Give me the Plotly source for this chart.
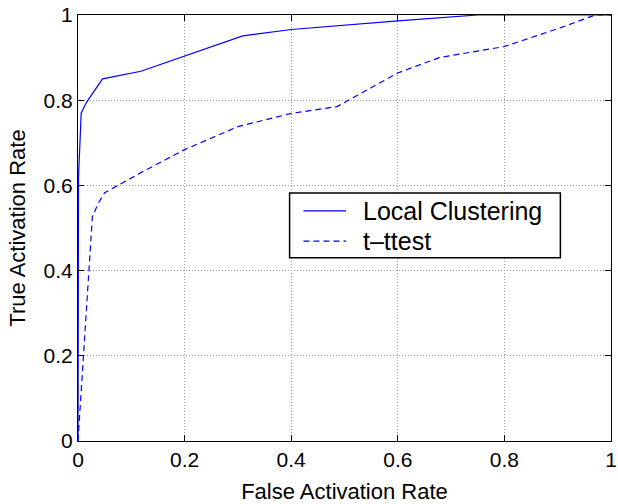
import plotly.graph_objects as go

# ROC curves: false activation rate vs true activation rate
lc_fpr = [0.0, 0.001, 0.006, 0.016, 0.046, 0.118, 0.309, 0.40, 0.60, 0.75, 1.0]
lc_tpr = [0.0, 0.62, 0.77, 0.795, 0.85, 0.868, 0.951, 0.966, 0.986, 1.0, 1.0]

tt_fpr = [0.0, 0.005, 0.010, 0.016, 0.021, 0.027, 0.038, 0.050, 0.084, 0.118,
          0.20, 0.30, 0.40, 0.486, 0.60, 0.678, 0.80, 0.91, 0.97, 1.0]
tt_tpr = [0.0, 0.096, 0.198, 0.31, 0.40, 0.527, 0.558, 0.583, 0.606, 0.63,
          0.684, 0.738, 0.769, 0.785, 0.864, 0.90, 0.926, 0.972, 1.0, 1.0]

series_names = ["Local Clustering", "t\u2013ttest"]
series_dash = ["solid", "6px,4px"]

tick_vals = [0, 0.2, 0.4, 0.6, 0.8, 1]
tick_text = ["0", "0.2", "0.4", "0.6", "0.8", "1"]

FONT = "Liberation Sans, Arial, Helvetica, sans-serif"
BLUE = "#0000ff"

fig = go.Figure()
fig.add_trace(go.Scatter(x=lc_fpr, y=lc_tpr, mode="lines", name=series_names[0],
                         line=dict(color=BLUE, width=1.2, dash=series_dash[0])))
fig.add_trace(go.Scatter(x=tt_fpr, y=tt_tpr, mode="lines", name=series_names[1],
                         line=dict(color=BLUE, width=1.2, dash=series_dash[1])))

axis_common = dict(
    range=[0, 1], tickvals=tick_vals, ticktext=tick_text,
    showline=True, linecolor="black", linewidth=1, mirror="ticks",
    ticks="inside", ticklen=6, tickcolor="black", tickwidth=1,
    showgrid=True, gridcolor="#999999", gridwidth=1, griddash="1px,2px",
    zeroline=False, ticklabeloverflow="allow",
    tickfont=dict(family=FONT, size=21, color="black"),
)

# Boxed legend in the middle-right of the axes
box_x0, box_x1, box_y0, box_y1 = 0.397, 0.905, 0.430, 0.582
key_x0, key_x1, label_x = 0.423, 0.503, 0.531
row_y = [0.540, 0.469]

shapes = [dict(type="rect", xref="paper", yref="paper",
               x0=box_x0, x1=box_x1, y0=box_y0, y1=box_y1,
               line=dict(color="black", width=1.5), fillcolor="white", layer="above")]
annotations = []
for name, dash, yy in zip(series_names, series_dash, row_y):
    shapes.append(dict(type="line", xref="paper", yref="paper",
                       x0=key_x0, x1=key_x1, y0=yy, y1=yy,
                       line=dict(color=BLUE, width=1.2, dash=dash), layer="above"))
    annotations.append(dict(xref="paper", yref="paper", x=label_x, y=yy,
                            xanchor="left", yanchor="middle", showarrow=False,
                            text=name, font=dict(family=FONT, size=25, color="black")))

fig.update_layout(
    width=618, height=504,
    margin=dict(l=78, r=1, t=15, b=63),
    paper_bgcolor="white", plot_bgcolor="white",
    font=dict(family=FONT, color="black"),
    xaxis=dict(**axis_common,
               title=dict(text="False Activation Rate", font=dict(family=FONT, size=22), standoff=16)),
    yaxis=dict(**axis_common,
               title=dict(text="True Activation Rate", font=dict(family=FONT, size=22), standoff=11)),
    shapes=shapes,
    annotations=annotations,
    showlegend=False,
)

fig.write_html("out.html")
